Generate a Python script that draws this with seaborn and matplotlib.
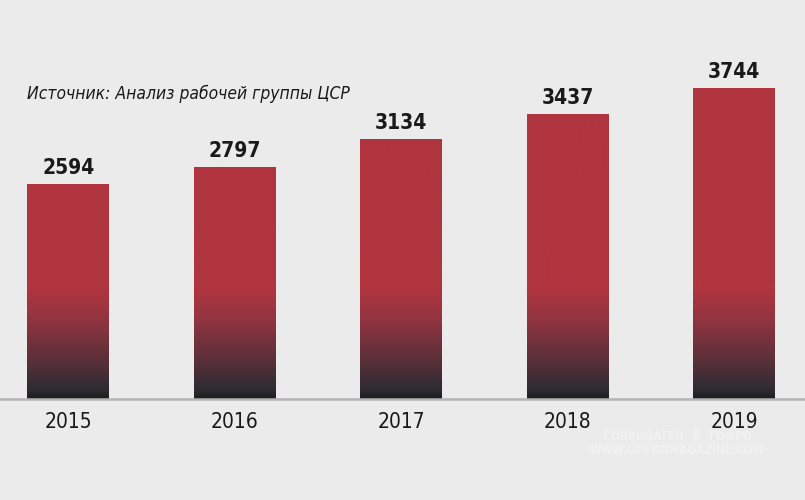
import numpy as np
import pandas as pd
import matplotlib
matplotlib.use('Agg')
import matplotlib.pyplot as plt
import seaborn as sns
from matplotlib.colors import LinearSegmentedColormap

# Data
years = ['2015', '2016', '2017', '2018', '2019']
values = [2594, 2797, 3134, 3437, 3744]
source_text = 'Источник: Анализ рабочей группы ЦСР'

df = pd.DataFrame({'year': years, 'value': values})

sns.set_theme(style='white')
bg = '#ebebeb'
fonts = ['DejaVu Sans']
plt.rcParams['font.family'] = fonts
plt.rcParams['font.stretch'] = 'condensed'

fig = plt.figure(figsize=(8.05, 5.0), dpi=100, facecolor=bg)
ax = fig.add_axes([0, 0.202, 1, 0.798])
ax.set_facecolor(bg)

sns.barplot(data=df, x='year', y='value', color='#b0353f', width=0.4925,
            saturation=1, ax=ax)

ymax = 4808
ax.set_xlim(-0.41, 4.425)
ax.set_ylim(0, ymax)

# vertical gradient at the bottom of each bar (dark -> red over ~110 px)
cmap = LinearSegmentedColormap.from_list(
    'barfade', [(0.0, '#201d21'), (0.08, '#2e2c32'), (0.35, '#5a3039'),
                (0.7, '#8f3440'), (1.0, '#b0353f')])
grad_units = 110 / 399 * ymax
yy = np.linspace(0, ymax, 600)
t = np.clip(yy / grad_units, 0, 1).reshape(-1, 1)
for patch in ax.patches:
    x0 = patch.get_x()
    w = patch.get_width()
    im = ax.imshow(t, extent=[x0, x0 + w, 0, ymax], origin='lower',
                   aspect='auto', cmap=cmap, vmin=0, vmax=1, zorder=2)
    im.set_clip_path(patch)
    patch.set_edgecolor('none')

# value labels
for i, v in enumerate(values):
    ax.text(i, v + 70, str(v), ha='center', va='bottom', fontsize=15,
            fontweight='bold', color='#1a1a1a', fontstretch='condensed')

for s in ['top', 'right', 'left']:
    ax.spines[s].set_visible(False)
ax.spines['bottom'].set_color('#b4b4b4')
ax.spines['bottom'].set_linewidth(1.8)
ax.set_xlabel('')
ax.set_ylabel('')
ax.set_yticks([])
ax.tick_params(axis='x', length=0, pad=9, labelsize=15, labelcolor='#1a1a1a')
for lbl in ax.get_xticklabels():
    lbl.set_fontstretch('condensed')

fig.text(27 / 805, 1 - 94 / 500, source_text, ha='left', va='center',
         fontsize=12.5, style='italic', color='#1a1a1a',
         fontstretch='condensed')

# faint watermark
fig.text(677 / 805, 1 - 436 / 500, 'CORRUGATED  ®  ГОФРО', ha='center',
         va='center', fontsize=8.5, fontweight='bold', color='white',
         alpha=0.35)
fig.text(677 / 805, 1 - 451 / 500, 'WWW.GOFROMAGAZINE.COM', ha='center',
         va='center', fontsize=8.5, fontweight='bold', color='white',
         alpha=0.35)

fig.savefig('out.png', dpi=100, facecolor=bg)
